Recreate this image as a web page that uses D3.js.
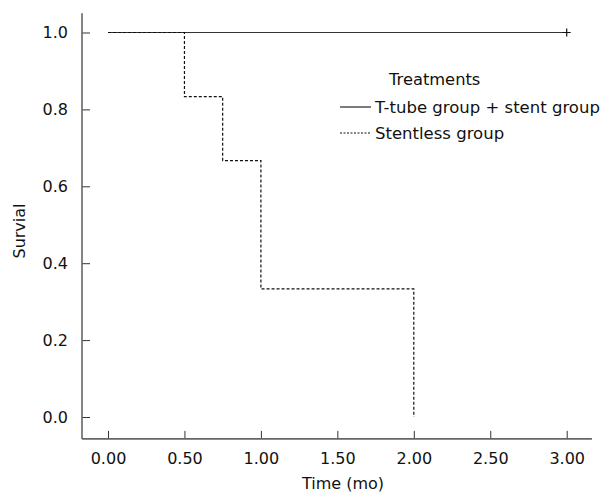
<!DOCTYPE html>
<html>
<head>
<meta charset="utf-8">
<script src="https://cdn.jsdelivr.net/npm/d3@7"></script>
<style>
  body { margin: 0; background: #fff; }
  text { font-family: "DejaVu Sans", Verdana, sans-serif; fill: #111; }
</style>
</head>
<body>
<svg width="606" height="492"></svg>
<script>
// data (Kaplan-Meier steps)
const stentTimes = [0, 0.5, 0.75, 1.0, 2.0];
const stentSurv = [1, 0.833, 0.667, 0.333, 0];
const tubeTimes = [0, 3];
const tubeSurv = [1, 1];
const censorTimes = [3];
const censorSurv = [1];
const xTicks = [0, 0.5, 1, 1.5, 2, 2.5, 3];
const yTicks = [0, 0.2, 0.4, 0.6, 0.8, 1.0];
const legendLabels = ['T-tube group + stent group', 'Stentless group'];

const svg = d3.select('svg');

const x = d3.scaleLinear().domain([0, 3]).range([108, 566.7]);
const y = d3.scaleLinear().domain([0, 1]).range([417, 32.5]);
const xExtent = [-0.17, 3.165]; // axis line extents (data units)
const yExtent = [-0.057, 1.05];

// axes
const gx = svg.append('g')
    .attr('transform', `translate(0,${y(yExtent[0])})`)
    .call(d3.axisBottom(x).tickValues(xTicks).tickFormat(d3.format('.2f'))
        .tickSizeInner(-8).tickSizeOuter(0).tickPadding(14));
const gy = svg.append('g')
    .attr('transform', `translate(${x(xExtent[0])},0)`)
    .call(d3.axisLeft(y).tickValues(yTicks).tickFormat(d3.format('.1f'))
        .tickSizeInner(-8).tickSizeOuter(0).tickPadding(14));

[gx, gy].forEach(g => {
    g.select('.domain').remove();
    g.selectAll('.tick line').attr('stroke', '#333');
    g.selectAll('.tick text').attr('font-size', 16).attr('font-family', '"DejaVu Sans", Verdana, sans-serif').attr('fill', '#111');
});

// axis lines
svg.append('line')
    .attr('x1', x(xExtent[0])).attr('x2', x(xExtent[1]))
    .attr('y1', y(yExtent[0])).attr('y2', y(yExtent[0]))
    .attr('stroke', '#666').attr('stroke-width', 1.6);
svg.append('line')
    .attr('x1', x(xExtent[0])).attr('x2', x(xExtent[0]))
    .attr('y1', y(yExtent[0])).attr('y2', y(yExtent[1]))
    .attr('stroke', '#666').attr('stroke-width', 1.6);

// axis titles
svg.append('text')
    .attr('x', 343).attr('y', 489)
    .attr('text-anchor', 'middle').attr('font-size', 16)
    .text('Time (mo)');
svg.append('text')
    .attr('transform', 'translate(25,231) rotate(-90)')
    .attr('text-anchor', 'middle').attr('font-size', 16)
    .text('Survial');

// survival curves
const step = d3.line().curve(d3.curveStepAfter).x(d => x(d[0])).y(d => y(d[1]));

svg.append('path')
    .datum(d3.zip(tubeTimes, tubeSurv))
    .attr('d', step)
    .attr('fill', 'none').attr('stroke', '#333').attr('stroke-width', 1.2);

svg.append('path')
    .datum(d3.zip(stentTimes, stentSurv))
    .attr('d', step)
    .attr('fill', 'none').attr('stroke', '#111').attr('stroke-width', 1.2)
    .attr('stroke-dasharray', '3,2');

// censor marks
svg.selectAll('.censor').data(d3.zip(censorTimes, censorSurv)).enter()
    .append('path')
    .attr('class', 'censor')
    .attr('d', d => `M${x(d[0]) - 4},${y(d[1])}H${x(d[0]) + 4}M${x(d[0])},${y(d[1]) - 4}V${y(d[1]) + 4}`)
    .attr('stroke', '#111').attr('stroke-width', 1.2);

// legend
const legend = svg.append('g').attr('transform', 'translate(340,0)');
legend.append('text')
    .attr('x', 49).attr('y', 85).attr('font-size', 16.3)
    .text('Treatments');
const items = legend.selectAll('.item').data(legendLabels).enter()
    .append('g')
    .attr('class', 'item')
    .attr('transform', (d, i) => `translate(0,${107 + i * 26})`);
items.append('line')
    .attr('x1', 0).attr('x2', 31)
    .attr('stroke', '#111').attr('stroke-width', 1.1)
    .attr('stroke-dasharray', (d, i) => i === 1 ? '2,1.5' : null);
items.append('text')
    .attr('x', 35).attr('y', 0).attr('dy', '0.35em').attr('font-size', 16.5)
    .text(d => d);
</script>
</body>
</html>
